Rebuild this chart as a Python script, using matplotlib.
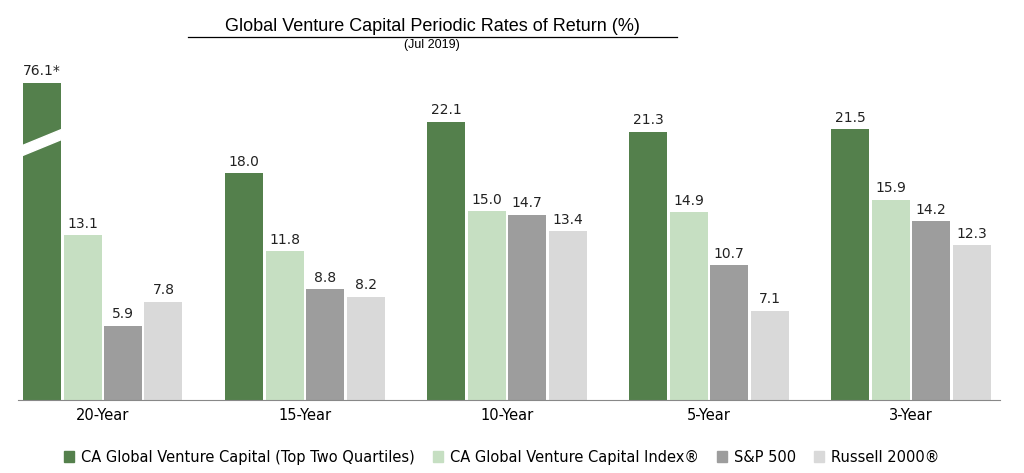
import matplotlib
matplotlib.use("Agg")
import matplotlib.pyplot as plt
from matplotlib.patches import Polygon, Patch

categories = ["20-Year", "15-Year", "10-Year", "5-Year", "3-Year"]
series_names = ["CA Global Venture Capital (Top Two Quartiles)", "CA Global Venture Capital Index®", "S&P 500", "Russell 2000®"]
top_two = [76.1, 18.0, 22.1, 21.3, 21.5]
vc_index = [13.1, 11.8, 15.0, 14.9, 15.9]
sp500 = [5.9, 8.8, 14.7, 10.7, 14.2]
russell = [7.8, 8.2, 13.4, 7.1, 12.3]
colors = ["#54804c", "#c6dfc2", "#9d9d9d", "#d9d9d9"]
clip_value = 25.2

fig = plt.figure(figsize=(10.24, 4.73), dpi=100)
ax = fig.add_axes([18/1024, 73/473, 982/1024, 330/473])
series = [top_two, vc_index, sp500, russell]
offsets = [-0.3, -0.1, 0.1, 0.3]
w = 0.188
for s, off, c in zip(series, offsets, colors):
    for i, v in enumerate(s):
        h = min(v, clip_value)
        ax.bar(i + off, h, w, color=c)
        lab = f"{v:.1f}" + ("*" if v > clip_value else "")
        ax.text(i + off, h + 0.35, lab, ha="center", va="bottom", fontsize=10, color="#222222")
# break mark
x0, x1 = -0.3 - w/2 - 0.02, -0.3 + w/2 + 0.02
ax.add_patch(Polygon([(x0, 19.3), (x1, 20.8), (x1, 21.6), (x0, 20.1)], closed=True, color="white", zorder=5))

ax.set_xlim(-0.42, 4.44)
ax.set_ylim(0, 26.2)
ax.set_xticks(range(5))
ax.set_xticklabels(categories, fontsize=10.5)
ax.tick_params(axis="x", length=0, pad=6)
ax.set_yticks([])
for sp in ["top", "right", "left"]:
    ax.spines[sp].set_visible(False)
ax.spines["bottom"].set_color("#888888")

fig.text(0.422, 0.945, "Global Venture Capital Periodic Rates of Return (%)", ha="center", va="center",
         fontsize=13, family="Liberation Sans")
fig.add_artist(plt.Line2D([0.184, 0.661], [0.922, 0.922], color="black", lw=0.9))
fig.text(0.422, 0.905, "(Jul 2019)", ha="center", va="center", fontsize=9, family="Liberation Sans")

handles = [Patch(color=c) for c in colors]
fig.legend(handles, series_names, loc="lower center", bbox_to_anchor=(0.49, -0.01), ncol=4,
           frameon=False, fontsize=10.5, handlelength=0.7, handleheight=0.7, columnspacing=1.2, handletextpad=0.5)
fig.savefig("out.png", dpi=100)
